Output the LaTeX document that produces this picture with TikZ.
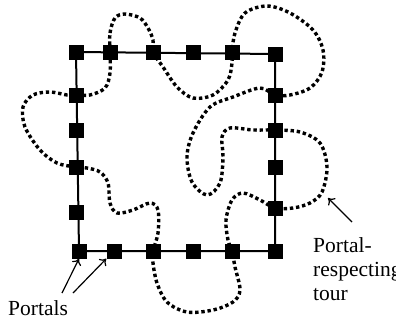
\documentclass[tikz,border=0pt]{standalone}
\usepackage{fontspec}
\setmainfont{Liberation Serif}
\usetikzlibrary{calc, arrows.meta}

\begin{document}
\begin{tikzpicture}[x=1pt,y=-1pt,
	portal/.style={fill=black, minimum size=15pt, inner sep=0pt},
	tour/.style={line width=3.4pt, dash pattern=on 3.4pt off 2.8pt},
	label/.style={font=\fontsize{21.5}{24}\selectfont, align=left, inner sep=0pt},
	pointer/.style={line width=1.2pt, -{To[length=6pt,width=10pt]}}]
\useasboundingbox (0,0) rectangle (396,324);
%Portals along the top side
\coordinate (t0) at (76,52);
\coordinate (t1) at (110,52);
\coordinate (t2) at (153,52);
\coordinate (t3) at (193,52);
\coordinate (t4) at (232,52);
\coordinate (t5) at (275,54);
%Portals along the bottom side
\coordinate (b0) at (79,251);
\coordinate (b1) at (114,251);
\coordinate (b2) at (153,251);
\coordinate (b3) at (193,251);
\coordinate (b4) at (232,251);
\coordinate (b5) at (275,251);
%Portals along the left and right sides
\coordinate (l1) at (76,95);
\coordinate (l2) at (76,130);
\coordinate (l3) at (76,167);
\coordinate (l4) at (76,212);
\coordinate (r1) at (275,95);
\coordinate (r2) at (275,130);
\coordinate (r3) at (275,167);
\coordinate (r4) at (275,208);
%The square
\draw[line width=2pt] (t0) -- (t5) -- (b5) -- (b0) -- cycle;
%The tour, passing through the portals
\draw[tour] plot[smooth cycle, tension=0.55] coordinates {
	(t1) (110,33) (115,18) (125,14) (140,18) (148,28) (153,40)
	(t2) (163,67) (177,87) (193,98) (213,95) (228,80) (232,63)
	(t4) (235,33) (245,13) (267,6) (290,13) (313,30) (323,50) (322,72) (310,88) (290,95)
	(r1) (260,88) (233,97) (210,107) (193,133) (187,157) (192,182) (207,195) (220,183)
	(223,157) (222,137) (230,128) (253,130)
	(r2) (300,132) (320,143) (327,167) (322,192) (310,203) (293,208)
	(r4) (260,200) (243,193) (232,200) (226,220) (228,240)
	(b4) (235,267) (240,290) (233,302) (213,310) (187,312) (167,302) (157,283) (153,263)
	(b2) (158,233) (158,210) (150,203) (133,210) (117,213) (110,203) (108,183) (100,172) (87,168)
	(l3) (57,163) (40,150) (25,127) (23,107) (33,95) (50,92) (67,95)
	(l1) (90,95) (105,88) (110,73)
};
%Portal squares on top
\foreach \p in {t0,t1,t2,t3,t4,t5,b0,b1,b2,b3,b4,b5,l1,l2,l3,l4,r1,r2,r3,r4} {
	\node[portal] (n\p) at (\p) {};
}
%Labels
\node[label, anchor=base west] (portals) at (8,315) {Portals};
\node[label, anchor=base west] (tourtext) at (313,300) {Portal-\\respecting\\tour};
\coordinate (portalsA) at (62,293);
\coordinate (portalsB) at (73,293);
\coordinate (tourA) at (352,222);
\draw[pointer] (portalsA) -- (nb0.south);
\draw[pointer] (portalsB) -- (nb1.south west);
\draw[pointer] (tourA) -- (328,198);
\end{tikzpicture}
\end{document}
